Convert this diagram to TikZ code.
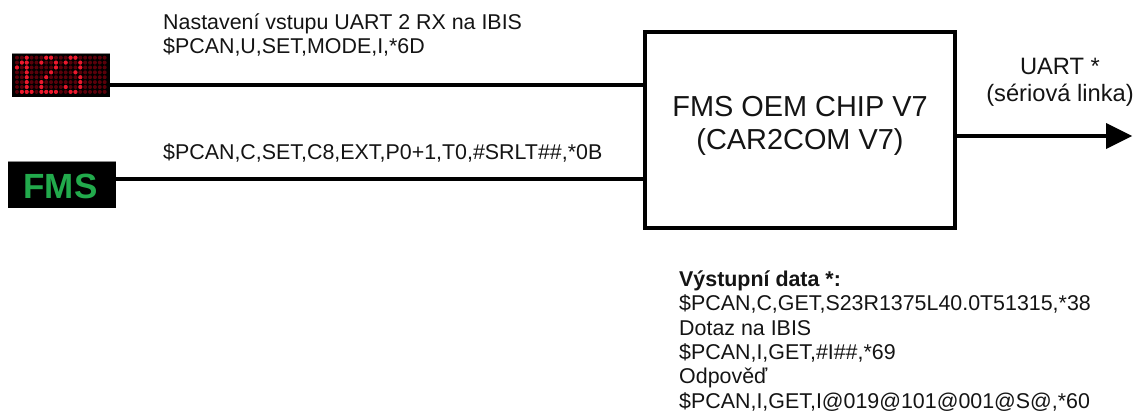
\documentclass[tikz,border=0pt]{standalone}
\usepackage{fontspec}
\setmainfont{Liberation Sans}
\definecolor{ledon}{RGB}{235,25,45}
\definecolor{ledoff}{RGB}{90,0,10}
\definecolor{fmsgreen}{RGB}{34,170,76}
\begin{document}
\begin{tikzpicture}[x=1pt,y=-1pt,
  wire/.style={line width=3.4pt,draw=black},
  body/.style={inner sep=0pt,anchor=base west,font=\fontsize{21.4}{21.4}\selectfont,text=black!92},
  big/.style={inner sep=0pt,align=center,font=\fontsize{28.9}{33.5}\selectfont,text=black!92}]
\useasboundingbox (0,0) rectangle (1139,410);
\node[fill=black,inner sep=0pt,minimum width=98pt,minimum height=44pt] (led) at (61,75) {};
\fill[black!45] (12,52.6) rectangle (110,53.6);
\foreach \c in {0,...,18}\foreach \r in {0,...,7}
  \fill[ledoff] ({17+\c*4.87},{57.7+\r*4.88}) circle (2pt);
\foreach \c/\r in {2/0,6/0,7/0,11/0,12/0,
  1/1,2/1,5/1,8/1,10/1,13/1,
  0/2,2/2,8/2,13/2,
  2/3,7/3,12/3,
  2/4,6/4,13/4,
  2/5,5/5,13/5,
  2/6,5/6,10/6,13/6,
  1/7,2/7,3/7,5/7,6/7,7/7,8/7,11/7,12/7}
  \fill[ledon] ({17+\c*4.87},{57.7+\r*4.88}) circle (2.1pt);
\node[fill=black,inner sep=0pt,minimum width=108pt,minimum height=46pt] (fms) at (62,185) {};
\fill[black!45] (8,161.4) rectangle (116,162.4);
\node[inner sep=0pt,font=\bfseries\fontsize{35}{35}\selectfont,text=fmsgreen] (fmslabel) at (60.5,186) {FMS};
\node[draw=black,line width=3.8pt,minimum width=310pt,minimum height=196pt,inner sep=0pt] (chip) at (800,130) {};
\node[big] (chiplabel) at (800,126) {FMS OEM CHIP V7\\(CAR2COM V7)};
\coordinate (a) at (chip.west |- 0,85);
\coordinate (b) at (chip.west |- 0,179);
\coordinate (c) at (chip.east |- 0,136);
\coordinate (tip) at (1132,136);
\coordinate (base) at (1106,136);
\draw[wire] (led.east |- a) -- (a);
\draw[wire] (fms.east |- b) -- (b);
\draw[wire] (c) -- (base);
\fill[black] (1106,123) -- (tip) -- (1106,149) -- cycle;
\node[body] (t1) at (163,29) {Nastavení vstupu UART 2 RX na IBIS};
\node[body] (t2) at (163,53.5) {\$PCAN,U,SET,MODE,I,*6D};
\node[body] (t3) at (163,159) {\$PCAN,C,SET,C8,EXT,P0+1,T0,\#SRLT\#\#,*0B};
\node[inner sep=0pt,align=center,font=\fontsize{23.7}{27.4}\selectfont,text=black!92] (uart) at (1060,82) {UART *\\(sériová linka)};
\node[body] (o1) at (679,286) {\textbf{Výstupní data *:}};
\node[body] (o2) at (679,310) {\$PCAN,C,GET,S23R1375L40.0T51315,*38};
\node[body] (o3) at (679,335) {Dotaz na IBIS};
\node[body] (o4) at (679,359) {\$PCAN,I,GET,\#I\#\#,*69};
\node[body] (o5) at (679,383) {Odpověď};
\node[body] (o6) at (679,408) {\$PCAN,I,GET,I@019@101@001@S@,*60};
\end{tikzpicture}
\end{document}
